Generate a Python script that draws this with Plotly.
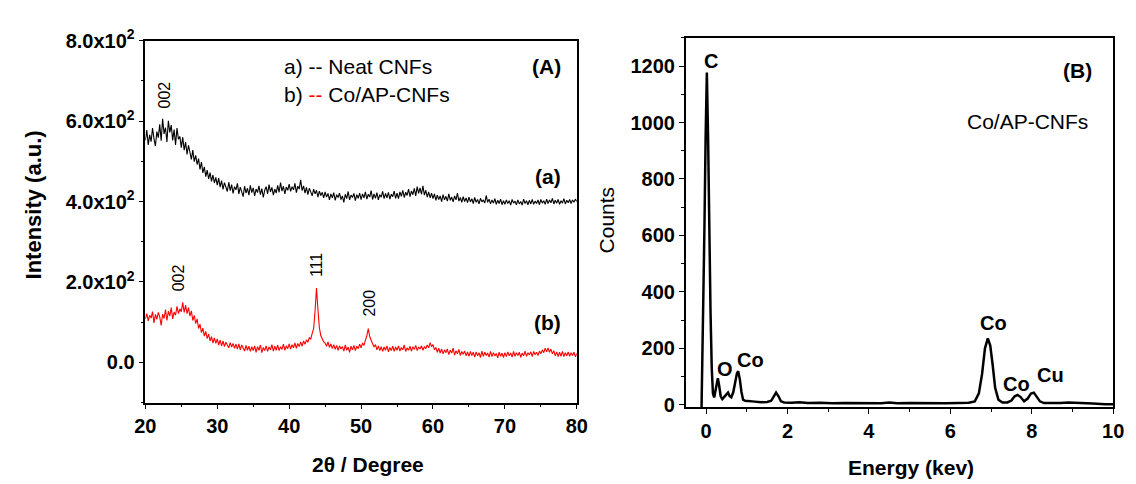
import numpy as np
import plotly.graph_objects as go

# ---------------- XRD patterns (panel A) ----------------
two_theta = np.round(np.arange(20.0, 80.001, 0.2), 2)

neat_cnfs = [
    552, 578, 541, 566, 549, 583, 556, 538, 574, 559, 592, 551, 606, 568, 584, 548, 601, 572, 590, 552, 579, 541, 583, 555, 562,
    534, 560, 528, 548, 517, 540, 522, 505, 528, 499, 515, 492, 507, 480, 498, 471, 486, 462, 478, 456, 472, 450, 466, 446, 460,
    441, 458, 436, 452, 430, 447, 438, 425, 448, 427, 442, 420, 437, 429, 445, 419, 436, 424, 412, 438, 421, 433, 416, 440, 422,
    434, 414, 431, 422, 439, 417, 432, 410, 428, 437, 419, 442, 424, 435, 416, 431, 421, 440, 423, 447, 426, 438, 419, 436, 428,
    443, 425, 437, 429, 445, 422, 438, 431, 454, 427, 439, 421, 435, 417, 433, 424, 414, 431, 419, 428, 411, 426, 415, 423, 409,
    424, 411, 420, 404, 419, 409, 422, 403, 417, 410, 421, 405, 414, 398, 418, 407, 425, 404, 416, 410, 420, 402, 417, 408, 421,
    405, 419, 409, 424, 406, 418, 411, 427, 405, 419, 408, 422, 404, 417, 411, 425, 407, 420, 409, 423, 406, 418, 412, 426, 408,
    421, 407, 424, 413, 428, 410, 423, 415, 431, 412, 426, 417, 433, 414, 437, 420, 434, 418, 439, 416, 428, 411, 424, 409, 421,
    407, 419, 403, 416, 405, 414, 400, 417, 404, 413, 401, 419, 403, 411, 399, 414, 404, 421, 401, 410, 398, 412, 400, 409, 397,
    411, 399, 407, 395, 410, 398, 405, 394, 408, 399, 404, 396, 415, 398, 406, 394, 404, 396, 407, 393, 403, 395, 406, 392, 402,
    393, 404, 395, 402, 391, 405, 396, 401, 392, 404, 394, 400, 391, 406, 395, 402, 392, 403, 394, 405, 393, 401, 395, 404, 392,
    405, 396, 402, 393, 406, 395, 404, 397, 408, 394, 403, 396, 405, 393, 402, 396, 407, 394, 403, 397, 405, 395, 404, 398, 406,
    400,
]

co_ap_cnfs = [
    108, 121, 103, 117, 110, 126, 98, 119, 107, 124, 113, 92, 120, 109, 131, 104, 127, 115, 136, 108, 125, 117, 139, 121, 133,
    126, 149, 124, 142, 121, 136, 115, 128, 104, 117, 96, 108, 84, 95, 74, 85, 65, 77, 59, 70, 53, 64, 48, 61, 47,
    58, 43, 55, 41, 53, 39, 50, 44, 36, 49, 38, 47, 35, 45, 33, 46, 31, 43, 36, 28, 42, 30, 40, 27, 39,
    29, 41, 25, 39, 30, 43, 24, 37, 29, 41, 27, 38, 31, 44, 28, 40, 30, 43, 29, 39, 32, 45, 30, 41, 34,
    46, 33, 44, 36, 48, 35, 47, 39, 51, 40, 53, 45, 56, 50, 61, 58, 72, 84, 128, 185, 132, 86, 66, 57, 51,
    48, 40, 51, 37, 46, 34, 44, 32, 42, 30, 41, 33, 39, 28, 43, 30, 38, 25, 40, 31, 42, 29, 40, 34, 45,
    36, 48, 42, 55, 66, 84, 64, 55, 47, 38, 44, 31, 41, 29, 39, 27, 38, 30, 41, 26, 37, 29, 40, 27, 38,
    30, 41, 28, 37, 31, 43, 27, 36, 30, 40, 28, 39, 32, 42, 29, 38, 33, 41, 30, 39, 34, 43, 36, 49, 39,
    44, 31, 37, 25, 35, 23, 33, 21, 31, 24, 33, 19, 30, 23, 35, 18, 29, 21, 32, 17, 27, 20, 28, 16, 26,
    15, 27, 17, 25, 13, 26, 16, 24, 12, 28, 15, 25, 17, 23, 13, 27, 14, 24, 16, 22, 11, 25, 15, 23, 12,
    24, 14, 26, 16, 23, 13, 27, 15, 24, 17, 25, 12, 23, 16, 28, 15, 24, 18, 26, 14, 27, 19, 25, 17, 28,
    21, 31, 24, 35, 26, 36, 25, 33, 21, 29, 16, 26, 14, 25, 15, 27, 14, 24, 16, 26, 15, 24, 17, 25, 14,
    22,
]

xrd_yticks = [0, 200, 400, 600, 800]
xrd_yticktext = ["0.0", "2.0x10<sup>2</sup>", "4.0x10<sup>2</sup>",
                 "6.0x10<sup>2</sup>", "8.0x10<sup>2</sup>"]

# ---------------- EDS spectrum (panel B) ----------------
energy_kev = [
    -0.11, -0.07, -0.04, -0.01, 0.02, 0.05, 0.08, 0.11, 0.14, 0.17, 0.20, 0.24, 0.27, 0.29, 0.32,
    0.36, 0.40, 0.45, 0.50, 0.54, 0.58, 0.62, 0.67, 0.72, 0.76, 0.79, 0.83, 0.87, 0.91, 0.96,
    1.05, 1.20, 1.35, 1.50, 1.60, 1.66, 1.72, 1.78, 1.84, 1.92, 2.10, 2.30, 2.50, 2.80, 3.10,
    3.40, 3.70, 4.00, 4.30, 4.50, 4.70, 5.00, 5.30, 5.60, 5.90, 6.20, 6.45, 6.60, 6.70, 6.78,
    6.85, 6.92, 6.98, 7.04, 7.10, 7.18, 7.28, 7.40, 7.50, 7.58, 7.65, 7.72, 7.81, 7.90, 7.98,
    8.05, 8.12, 8.20, 8.30, 8.50, 8.70, 8.90, 9.00, 9.20, 9.50, 9.80, 10.00,
]
counts = [
    -8, 300, 620, 950, 1177, 950, 600, 330, 130, 40, 26, 55, 88, 94, 70,
    30, 20, 28, 38, 43, 30, 26, 45, 85, 112, 119, 90, 45, 18, 14,
    12, 11, 9, 10, 14, 28, 43, 30, 12, 8, 7, 9, 6, 7, 5,
    6, 5, 6, 5, 8, 5, 6, 5, 6, 5, 6, 7, 12, 40, 110,
    200, 235, 210, 140, 60, 18, 8, 8, 15, 30, 35, 28, 12, 22, 40,
    43, 30, 12, 6, 5, 6, 8, 7, 5, 4, 2, 2,
]

assert len(neat_cnfs) == len(two_theta) == len(co_ap_cnfs)
assert len(energy_kev) == len(counts)

W, H = 1136, 484
FONT = "Liberation Sans, Arial, sans-serif"


def px(x):
    return x / W


def py(y):
    return 1 - y / H


fig = go.Figure()

fig.add_trace(go.Scatter(x=two_theta, y=neat_cnfs, mode="lines",
                         line=dict(color="black", width=1.1), xaxis="x", yaxis="y"))
fig.add_trace(go.Scatter(x=two_theta, y=co_ap_cnfs, mode="lines",
                         line=dict(color="#ff0000", width=1.1), xaxis="x", yaxis="y"))
fig.add_trace(go.Scatter(x=energy_kev, y=counts, mode="lines",
                         line=dict(color="black", width=2.5), xaxis="x2", yaxis="y2"))

axis_common = dict(showline=True, linecolor="black", linewidth=1.5, mirror=True,
                   ticks="outside", ticklen=5, tickwidth=1.3, tickcolor="black",
                   showgrid=False, zeroline=False,
                   tickfont=dict(family=FONT, size=20, color="black", weight="bold"))

fig.update_layout(
    width=W, height=H,
    margin=dict(l=0, r=0, t=0, b=0),
    paper_bgcolor="white", plot_bgcolor="white",
    showlegend=False,
    xaxis=dict(domain=[px(137), px(577)], range=[20, 80], tickvals=[20, 30, 40, 50, 60, 70, 80],
               minor=dict(ticks="outside", ticklen=3, tickcolor="black", dtick=5, tick0=20),
               anchor="y", **axis_common),
    yaxis=dict(domain=[py(407), py(28)], range=[-100, 800], tickvals=xrd_yticks,
               ticktext=xrd_yticktext,
               minor=dict(ticks="outside", ticklen=3, tickcolor="black", dtick=100, tick0=0),
               anchor="x", **axis_common),
    xaxis2=dict(domain=[px(688), px(1124)], range=[-0.5, 10], dtick=2, tick0=0,
                minor=dict(ticks="outside", ticklen=3, tickcolor="black", dtick=1, tick0=0),
                anchor="y2", **axis_common),
    yaxis2=dict(domain=[py(412), py(25)], range=[-9, 1300], dtick=200, tick0=0,
                minor=dict(ticks="outside", ticklen=3, tickcolor="black", dtick=100, tick0=0),
                anchor="x2", **axis_common),
)

ann = []


def text(x, y, s, size=20, bold=False, color="black", angle=0, xanchor="center",
         xref="x", yref="y"):
    ann.append(dict(x=x, y=y, xref=xref, yref=yref, text=s, showarrow=False,
                    textangle=angle, xanchor=xanchor, yanchor="middle",
                    font=dict(family=FONT, size=size, color=color,
                              weight="bold" if bold else "normal")))


# Panel A labels
text(75.8, 735, "(A)", size=21, bold=True)
text(39.05, 735, "a) -- Neat CNFs", size=21, xanchor="left")
text(39.05, 665, 'b) <span style="color:#ff0000">--</span> Co/AP-CNFs', size=21, xanchor="left")
text(22.8, 665, "002", size=16, angle=-90)
text(24.6, 210, "002", size=16, angle=-90)
text(43.8, 243, "111", size=16, angle=-90)
text(51.2, 148, "200", size=16, angle=-90)
text(76.0, 461, "(a)", size=21, bold=True)
text(75.9, 98, "(b)", size=21, bold=True)

# Panel B labels
text(0.13, 1217, "C", size=20, bold=True, xref="x2", yref="y2")
text(0.47, 127, "O", size=20, bold=True, xref="x2", yref="y2")
text(1.10, 158, "Co", size=20, bold=True, xref="x2", yref="y2")
text(7.05, 288, "Co", size=20, bold=True, xref="x2", yref="y2")
text(7.62, 73, "Co", size=20, bold=True, xref="x2", yref="y2")
text(8.46, 106, "Cu", size=20, bold=True, xref="x2", yref="y2")
text(9.13, 1183, "(B)", size=21, bold=True, xref="x2", yref="y2")
text(7.89, 1004, "Co/AP-CNFs", size=21, xref="x2", yref="y2")

# Axis titles
text(px(23), py(200), "Intensity (a.u.)", size=22, bold=True, angle=-90, xref="paper", yref="paper")
text(px(364), py(472), "2θ / Degree", size=21, bold=True, xref="paper", yref="paper")
text(px(607), py(216), "Counts", size=21, angle=-90, xref="paper", yref="paper")
text(px(918), py(475), "Energy (kev)", size=21, bold=True, xref="paper", yref="paper")

fig.update_layout(annotations=ann)

fig.write_html("out.html")
